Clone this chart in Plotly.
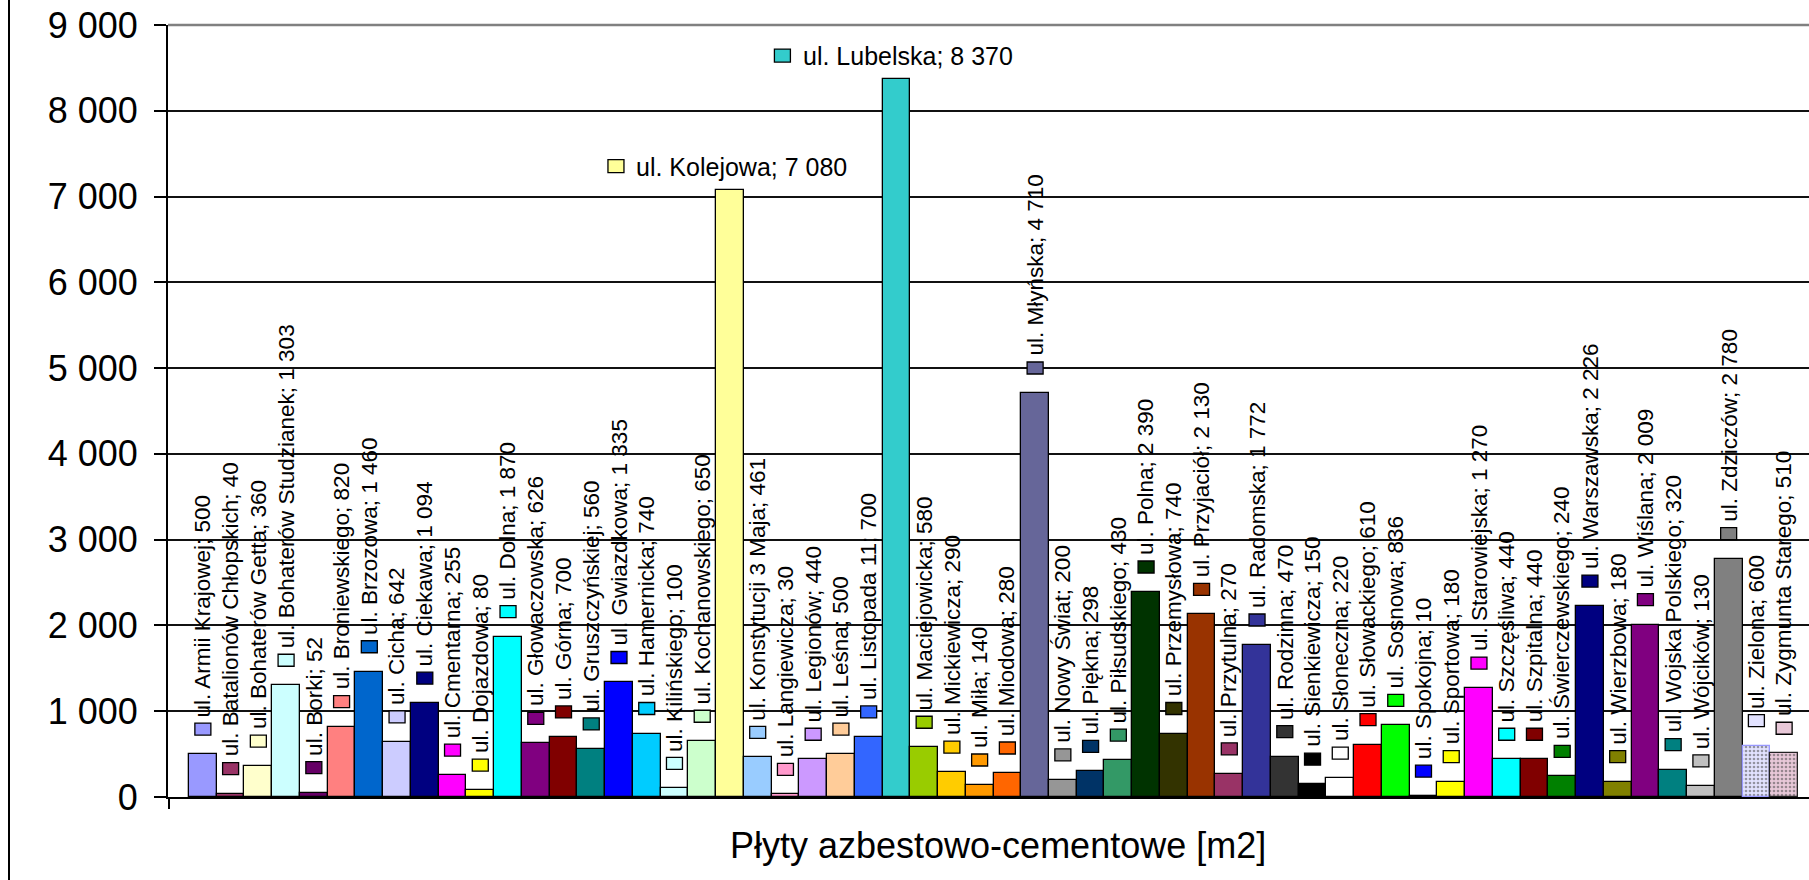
import plotly.graph_objects as go

# ---------------- data ----------------
streets = [
    "ul. Armii Krajowej", "ul. Batalionów Chłopskich", "ul. Bohaterów Getta",
    "ul. Bohaterów Studzianek", "ul. Borki", "ul. Broniewskiego", "ul. Brzozowa",
    "ul. Cicha", "ul. Ciekawa", "ul. Cmentarna", "ul. Dojazdowa", "ul. Dolna",
    "ul. Głowaczowska", "ul. Górna", "ul. Gruszczyńskiej", "ul. Gwiazdkowa",
    "ul. Hamernicka", "ul. Kilińskiego", "ul. Kochanowskiego", "ul. Kolejowa",
    "ul. Konstytucji 3 Maja", "ul. Langiewicza", "ul. Legionów", "ul. Leśna",
    "ul. Listopada 11", "ul. Lubelska", "ul. Maciejowicka", "ul. Mickiewicza",
    "ul. Miła", "ul. Miodowa", "ul. Młyńska", "ul. Nowy Świat", "ul. Piękna",
    "ul. Piłsudskiego", "ul. Polna", "ul. Przemysłowa", "ul. Przyjaciół",
    "ul. Przytulna", "ul. Radomska", "ul. Rodzinna", "ul. Sienkiewicza",
    "ul. Słoneczna", "ul. Słowackiego", "ul. Sosnowa", "ul. Spokojna",
    "ul. Sportowa", "ul. Starowiejska", "ul. Szczęśliwa", "ul. Szpitalna",
    "ul. Świerczewskiego", "ul. Warszawska", "ul. Wierzbowa", "ul. Wiślana",
    "ul. Wojska Polskiego", "ul. Wójcików", "ul. Zdziczów", "ul. Zielona",
    "ul. Zygmunta Starego",
]

values = [
    500, 40, 360, 1303, 52, 820, 1460, 642, 1094, 255, 80, 1870, 626, 700, 560,
    1335, 740, 100, 650, 7080, 461, 30, 440, 500, 700, 8370, 580, 290, 140, 280,
    4710, 200, 298, 430, 2390, 740, 2130, 270, 1772, 470, 150, 220, 610, 836, 10,
    180, 1270, 440, 440, 240, 2226, 180, 2009, 320, 130, 2780, 600, 510,
]

colors = [
    "#9999FF", "#993366", "#FFFFCC", "#CCFFFF", "#660066", "#FF8080", "#0066CC",
    "#CCCCFF", "#000080", "#FF00FF", "#FFFF00", "#00FFFF", "#800080", "#800000",
    "#008080", "#0000FF", "#00CCFF", "#CCFFFF", "#CCFFCC", "#FFFF99", "#99CCFF",
    "#FF99CC", "#CC99FF", "#FFCC99", "#3366FF", "#33CCCC", "#99CC00", "#FFCC00",
    "#FF9900", "#FF6600", "#666699", "#969696", "#003366", "#339966", "#003300",
    "#333300", "#993300", "#993366", "#333399", "#333333", "#000000", "#FFFFFF",
    "#FF0000", "#00FF00", "#0000FF", "#FFFF00", "#FF00FF", "#00FFFF", "#800000",
    "#008000", "#000080", "#808000", "#800080", "#008080", "#C0C0C0", "#808080",
    "#9999FF", "#993366",
]

# streets drawn with a dotted pattern fill instead of a solid one
patterned = ["ul. Zielona", "ul. Zygmunta Starego"]
pattern_tints = {"ul. Zielona": "#E2E2FF", "ul. Zygmunta Starego": "#E8C8D8"}
pattern_outlines = {"ul. Zielona": "#9999FF", "ul. Zygmunta Starego": "#222222"}
# streets whose label is written horizontally above the bar
horizontal_labels = ["ul. Kolejowa", "ul. Lubelska"]

y_ticks = [0, 1000, 2000, 3000, 4000, 5000, 6000, 7000, 8000, 9000]
y_tick_labels = ["0", "1 000", "2 000", "3 000", "4 000", "5 000",
                 "6 000", "7 000", "8 000", "9 000"]
x_title = "Płyty azbestowo-cementowe [m2]"

# ---------------- figure ----------------
FONT = "Liberation Sans, Arial, sans-serif"
W, H = 1809, 880
ML, MR, MT, MB = 168, 0, 25, 83


def fmt(v):
    return f"{v:,}".replace(",", " ")


n = len(streets)
xs = list(range(n))

bar_colors = []
line_colors = []
pat_shapes = []
key_colors = []
for s, c in zip(streets, colors):
    if s in patterned:
        bar_colors.append(pattern_tints[s])
        pat_shapes.append(".")
        line_colors.append(pattern_outlines[s])
        key_colors.append(pattern_tints[s])
    else:
        bar_colors.append(c)
        pat_shapes.append("")
        line_colors.append("#000000")
        key_colors.append(c)

fig = go.Figure()
fig.add_trace(go.Bar(
    x=xs, y=values, width=1,
    marker=dict(
        color=bar_colors,
        line=dict(color=line_colors, width=1.3),
        pattern=dict(shape=pat_shapes, fgcolor=colors, fillmode="overlay",
                     size=4, solidity=0.35),
    ),
    hoverinfo="skip",
))

annotations = []
shapes = []
for i, (s, v, kc) in enumerate(zip(streets, values, key_colors)):
    label = f"{s}; {fmt(v)}"
    if s in horizontal_labels:
        annotations.append(dict(
            x=i, y=v, xref="x", yref="y", text=label, showarrow=False,
            xanchor="center", yanchor="middle", xshift=12, yshift=23,
            font=dict(family=FONT, size=25, color="black"),
        ))
        shapes.append(dict(
            type="rect", xref="x", yref="y", xsizemode="pixel", ysizemode="pixel",
            xanchor=i, yanchor=v, x0=-122, x1=-106, y0=17, y1=30,
            fillcolor=kc, line=dict(color="black", width=1.3), layer="above",
        ))
    else:
        annotations.append(dict(
            x=i, y=v, xref="x", yref="y", text=label, showarrow=False,
            textangle=-90, xanchor="center", yanchor="bottom", yshift=35,
            font=dict(family=FONT, size=22.5, color="black"),
        ))
        shapes.append(dict(
            type="rect", xref="x", yref="y", xsizemode="pixel", ysizemode="pixel",
            xanchor=i, yanchor=v, x0=-8, x1=8, y0=19, y1=31,
            fillcolor=kc, line=dict(color="black", width=1.3), layer="above",
        ))

plot_w = W - ML - MR
plot_h = H - MT - MB

# axis title
annotations.append(dict(
    x=(998 - ML) / plot_w, y=(797 - 845) / plot_h, xref="paper", yref="paper",
    text=x_title, showarrow=False, xanchor="center", yanchor="middle",
    font=dict(family=FONT, size=36, color="black"),
))

# plot-area top border (grey) and outer chart border (left)
shapes.append(dict(type="line", xref="paper", yref="paper", x0=0, x1=1, y0=1, y1=1,
                   line=dict(color="#808080", width=2.5), layer="above"))
shapes.append(dict(type="line", xref="paper", yref="paper",
                   x0=(9 - ML) / plot_w, x1=(9 - ML) / plot_w,
                   y0=-MB / plot_h, y1=1 + MT / plot_h,
                   line=dict(color="black", width=2), layer="above"))

bar_px = (1798 - 189) / n
x_left = -0.5 - (189 - ML) / bar_px
x_right = x_left + plot_w / bar_px

fig.update_layout(
    width=W, height=H,
    margin=dict(l=ML, r=MR, t=MT, b=MB, pad=0),
    paper_bgcolor="white", plot_bgcolor="white",
    showlegend=False,
    bargap=0,
    annotations=annotations,
    shapes=shapes,
    font=dict(family=FONT, color="black"),
    xaxis=dict(
        range=[x_left, x_right], showgrid=False, zeroline=False,
        showline=True, linecolor="black", linewidth=1.5,
        tickvals=[x_left + 0.02], ticks="outside", ticklen=10, tickwidth=2,
        tickcolor="black", showticklabels=False, fixedrange=True,
    ),
    yaxis=dict(
        range=[0, 9000], tickvals=y_ticks, ticktext=y_tick_labels,
        showgrid=True, gridcolor="#111111", gridwidth=1.5, zeroline=False,
        showline=True, linecolor="black", linewidth=2,
        ticks="outside", ticklen=12, tickwidth=1.5, tickcolor="black",
        ticklabelstandoff=9,
        tickfont=dict(family=FONT, size=36, color="black"), fixedrange=True,
    ),
)

fig.write_html(
    "out.html",
    config={"displayModeBar": False, "responsive": False},
    post_script="document.body.style.margin='0';document.body.style.overflow='hidden';",
)
